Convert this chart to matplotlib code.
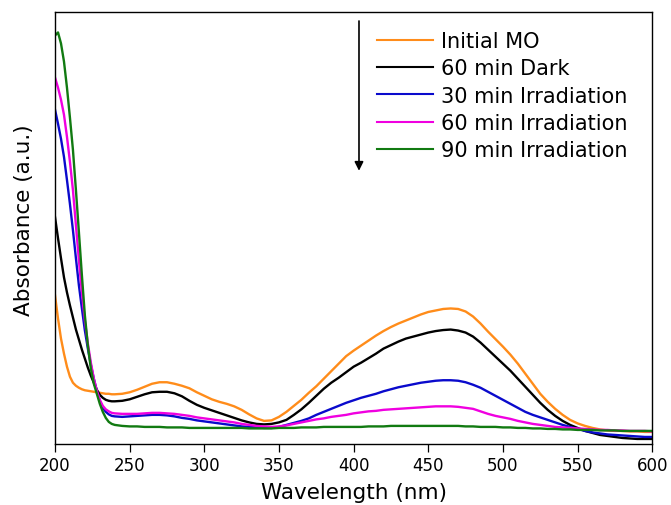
import matplotlib
matplotlib.use("Agg")
import matplotlib.pyplot as plt

plt.rcParams['font.family'] = ['DejaVu Sans']

# Wavelength grid (nm): fine steps over the steep UV edge, 5 nm beyond
wavelength = [200, 202, 204, 206, 208, 210, 212, 214, 216, 218, 220,
              222, 224, 226, 228, 230, 232, 234, 236, 238, 240,
              245, 250, 255, 260, 265, 270, 275, 280, 285, 290, 295, 300,
              305, 310, 315, 320, 325, 330, 335, 340, 345, 350, 355, 360,
              365, 370, 375, 380, 385, 390, 395, 400, 405, 410, 415, 420,
              425, 430, 435, 440, 445, 450, 455, 460, 465, 470, 475, 480,
              485, 490, 495, 500, 505, 510, 515, 520, 525, 530, 535, 540,
              545, 550, 555, 560, 565, 570, 575, 580, 585, 590, 595, 600]

initial_mo = [1.48, 1.25, 1.05, 0.90, 0.77, 0.67, 0.61, 0.58, 0.56, 0.545, 0.535,
              0.53, 0.525, 0.52, 0.515, 0.51, 0.505, 0.50, 0.50, 0.495, 0.495,
              0.50, 0.515, 0.54, 0.57, 0.60, 0.615, 0.615, 0.60, 0.58, 0.555, 0.515, 0.48,
              0.445, 0.42, 0.40, 0.375, 0.34, 0.295, 0.255, 0.23, 0.235, 0.27, 0.32, 0.38,
              0.44, 0.51, 0.575, 0.65, 0.725, 0.80, 0.875, 0.93, 0.98, 1.03, 1.08, 1.125,
              1.165, 1.20, 1.23, 1.26, 1.29, 1.315, 1.33, 1.345, 1.35, 1.345, 1.32, 1.27,
              1.20, 1.12, 1.045, 0.97, 0.89, 0.80, 0.70, 0.60, 0.50, 0.42, 0.35, 0.29,
              0.24, 0.205, 0.18, 0.16, 0.145, 0.135, 0.13, 0.13, 0.125, 0.125, 0.12, 0.12]

dark_60 = [2.26, 2.05, 1.85, 1.66, 1.51, 1.38, 1.26, 1.14, 1.04, 0.94, 0.85,
           0.76, 0.68, 0.61, 0.54, 0.49, 0.46, 0.44, 0.43, 0.425, 0.425,
           0.43, 0.445, 0.47, 0.495, 0.515, 0.52, 0.52, 0.505, 0.475, 0.43, 0.39, 0.36,
           0.335, 0.31, 0.285, 0.26, 0.235, 0.215, 0.20, 0.195, 0.20, 0.215, 0.24, 0.29,
           0.345, 0.41, 0.48, 0.55, 0.61, 0.66, 0.715, 0.77, 0.81, 0.855, 0.90, 0.95,
           0.985, 1.02, 1.05, 1.07, 1.09, 1.11, 1.125, 1.135, 1.14, 1.13, 1.11, 1.07,
           1.01, 0.94, 0.87, 0.80, 0.73, 0.65, 0.57, 0.49, 0.41, 0.34, 0.28, 0.23,
           0.19, 0.16, 0.13, 0.11, 0.09, 0.08, 0.07, 0.06, 0.055, 0.05, 0.05, 0.05]

irr_30 = [3.33, 3.19, 3.04, 2.86, 2.63, 2.39, 2.13, 1.85, 1.58, 1.35, 1.13,
          0.95, 0.79, 0.65, 0.53, 0.43, 0.36, 0.32, 0.295, 0.28, 0.275,
          0.27, 0.275, 0.28, 0.285, 0.29, 0.29, 0.285, 0.275, 0.26, 0.25, 0.235, 0.225,
          0.215, 0.205, 0.195, 0.185, 0.175, 0.17, 0.165, 0.16, 0.16, 0.17, 0.19, 0.21,
          0.23, 0.255, 0.29, 0.32, 0.35, 0.38, 0.41, 0.435, 0.46, 0.48, 0.50, 0.525,
          0.545, 0.565, 0.58, 0.595, 0.61, 0.62, 0.63, 0.635, 0.635, 0.63, 0.615, 0.59,
          0.56, 0.52, 0.48, 0.44, 0.40, 0.36, 0.32, 0.29, 0.265, 0.24, 0.215, 0.19,
          0.17, 0.15, 0.13, 0.115, 0.105, 0.095, 0.09, 0.085, 0.08, 0.075, 0.07, 0.07]

irr_60 = [3.65, 3.55, 3.43, 3.28, 3.06, 2.81, 2.53, 2.18, 1.83, 1.51, 1.23,
          1.00, 0.81, 0.65, 0.53, 0.44, 0.38, 0.345, 0.325, 0.31, 0.305,
          0.30, 0.30, 0.30, 0.305, 0.31, 0.31, 0.305, 0.30, 0.29, 0.28, 0.265, 0.255,
          0.245, 0.235, 0.225, 0.215, 0.20, 0.19, 0.18, 0.175, 0.17, 0.175, 0.185, 0.20,
          0.215, 0.23, 0.245, 0.255, 0.27, 0.28, 0.29, 0.305, 0.315, 0.325, 0.33, 0.34,
          0.345, 0.35, 0.355, 0.36, 0.365, 0.37, 0.375, 0.375, 0.375, 0.37, 0.36, 0.35,
          0.325, 0.30, 0.28, 0.265, 0.25, 0.23, 0.215, 0.20, 0.19, 0.18, 0.17, 0.165,
          0.16, 0.155, 0.15, 0.145, 0.14, 0.14, 0.135, 0.135, 0.13, 0.13, 0.13, 0.125]

irr_90 = [4.07, 4.10, 3.99, 3.81, 3.55, 3.25, 2.93, 2.53, 2.11, 1.68, 1.28,
          0.98, 0.75, 0.60, 0.50, 0.40, 0.32, 0.26, 0.22, 0.20, 0.19,
          0.18, 0.175, 0.175,
          0.17, 0.17, 0.17, 0.165, 0.165, 0.165, 0.16, 0.16, 0.16, 0.16, 0.16, 0.16,
          0.16, 0.16, 0.155, 0.155, 0.155,
          0.155, 0.16,
          0.16, 0.16, 0.165, 0.165, 0.165, 0.17, 0.17, 0.17, 0.17, 0.17,
          0.17, 0.175, 0.175, 0.175, 0.18, 0.18, 0.18, 0.18, 0.18, 0.18, 0.18, 0.18,
          0.18, 0.18,
          0.175, 0.175, 0.17, 0.17, 0.17, 0.165, 0.165, 0.16, 0.16, 0.155,
          0.155, 0.15, 0.15, 0.145, 0.145, 0.14, 0.14, 0.14, 0.135, 0.135, 0.135,
          0.13, 0.13, 0.13, 0.13, 0.13]

series_labels = ["Initial MO", "60 min Dark", "30 min Irradiation",
                 "60 min Irradiation", "90 min Irradiation"]
series_values = [initial_mo, dark_60, irr_30, irr_60, irr_90]
series_colors = ["#FF8C1A", "#000000", "#0A0ACC", "#F000E0", "#117A11"]

x_ticks = [200, 250, 300, 350, 400, 450, 500, 550, 600]

fig = plt.figure(figsize=(6.71, 5.06), dpi=100)
ax = fig.add_axes([0.082, 0.1206, 0.890, 0.853])

for label, values, color in zip(series_labels, series_values, series_colors):
    ax.plot(wavelength, values, color=color, lw=1.7, label=label,
            solid_joinstyle='round')

ax.set_xlim(200, 600)
ax.set_ylim(0, 4.3)
ax.set_xticks(x_ticks)
ax.set_yticks([])
ax.tick_params(axis='x', direction='out', length=5.5, width=0.9,
               labelsize=12, pad=3.5)
for side in ['left', 'right', 'top', 'bottom']:
    ax.spines[side].set_linewidth(1.0)

ax.set_xlabel("Wavelength (nm)", fontsize=15.5, labelpad=5.5)
ax.set_ylabel("Absorbance (a.u.)", fontsize=15.5)
ax.yaxis.set_label_coords(-0.035, 0.52)

leg = ax.legend(loc='upper left', bbox_to_anchor=(0.539, 0.957),
                frameon=False, fontsize=15, handlelength=2.7,
                handletextpad=0.38, labelspacing=0.35,
                borderpad=0, borderaxespad=0)
for line in leg.get_lines():
    line.set_linewidth(1.5)

# Arrow showing the decrease of absorbance over time
ax.annotate("", xy=(0.509, 0.633), xytext=(0.509, 0.98),
            xycoords='axes fraction', textcoords='axes fraction',
            arrowprops=dict(arrowstyle='-|>', color='black', lw=1.2,
                            mutation_scale=13, shrinkA=0, shrinkB=0))

fig.savefig("out.png", dpi=100)
